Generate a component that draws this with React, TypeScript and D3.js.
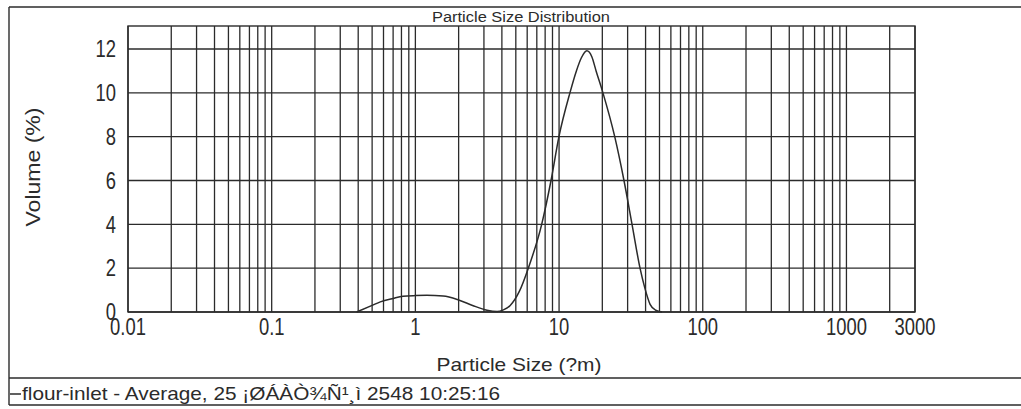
import React from "react";
import * as d3 from "d3";

// particle size (um) and volume (%)
const sizes = [
  0.39, 0.5, 0.57, 0.7, 0.82, 1.0, 1.2, 1.56, 2.0, 2.5, 3.15, 3.7, 4.1, 4.57,
  5.3, 6.11, 7.57, 8.79, 9.98, 11.9, 13.2, 14.3, 15.6, 16.9, 18.1, 20.2, 24.4,
  28.3, 32.2, 36.6, 39.5, 43, 47, 52,
];
const volumes = [
  0, 0.3, 0.46, 0.62, 0.72, 0.75, 0.76, 0.73, 0.55, 0.3, 0.08, 0.02, 0.1, 0.3,
  0.95, 2.0, 4.0, 6.0, 8.0, 10.0, 11.0, 11.6, 11.92, 11.65, 11.0, 10.0, 8.0,
  6.0, 4.0, 2.0, 1.1, 0.35, 0.08, 0,
];

const xTicks = [0.01, 0.1, 1, 10, 100, 1000, 3000];
const xTickLabels = ["0.01", "0.1", "1", "10", "100", "1000", "3000"];
const yTicks = [0, 2, 4, 6, 8, 10, 12];

const title = "Particle Size Distribution";
const xTitle = "Particle Size (?m)";
const yTitle = "Volume (%)";
const legendText = "flour-inlet - Average, 25 ¡ØÁÀÒ¾Ñ¹¸ì 2548 10:25:16";

const W = 1021;
const H = 409;
const plot = { left: 128, right: 915, top: 26, bottom: 312 };
const ink = "#2b2b2b";
const font = "'Liberation Sans', Arial, sans-serif";

export default function App() {
  const x = d3.scaleLog().domain([0.01, 3000]).range([plot.left, plot.right]);
  const y = d3.scaleLinear().domain([0, 13.05]).range([plot.bottom, plot.top]);

  // minor log grid: 1..9 of every decade up to 3000
  const grid: number[] = [];
  for (let e = -2; e <= 3; e++) {
    for (let m = 1; m <= 9; m++) {
      const v = m * Math.pow(10, e);
      if (v <= 3000 + 1e-9) grid.push(v);
    }
  }

  const pts = sizes.map((s, i) => [s, volumes[i]] as [number, number]);
  const line = d3
    .line<[number, number]>()
    .x((d) => x(d[0]))
    .y((d) => y(d[1]))
    .curve(d3.curveMonotoneX);

  return (
    <svg
      width={W}
      height={H}
      style={{ position: "absolute", left: 0, top: 0, background: "#fff" }}
    >
      {/* outer frame */}
      <g stroke={ink} strokeWidth={1.4} fill="none">
        <line x1={9} y1={7} x2={W} y2={7} />
        <line x1={9} y1={7} x2={9} y2={405} />
        <line x1={9} y1={378} x2={W} y2={378} />
        <line x1={9} y1={405} x2={W} y2={405} />
      </g>

      <text
        x={521}
        y={22}
        textAnchor="middle"
        fontFamily={font}
        fontSize={14}
        fill={ink}
        textLength={178}
        lengthAdjust="spacingAndGlyphs"
      >
        {title}
      </text>

      {/* grid */}
      <g stroke={ink} strokeWidth={1.3}>
        {grid.map((v) => (
          <line key={"v" + v} x1={x(v)} x2={x(v)} y1={plot.top} y2={plot.bottom} />
        ))}
        {yTicks.map((v) => (
          <line key={"h" + v} x1={plot.left} x2={plot.right} y1={y(v)} y2={y(v)} />
        ))}
      </g>
      <rect
        x={plot.left}
        y={plot.top}
        width={plot.right - plot.left}
        height={plot.bottom - plot.top}
        fill="none"
        stroke={ink}
        strokeWidth={1.4}
      />

      <path d={line(pts) || ""} fill="none" stroke={ink} strokeWidth={1.5} />

      {/* y tick labels */}
      {yTicks.map((v) => (
        <text
          key={"yt" + v}
          transform={`translate(116,${y(v)}) scale(0.8,1)`}
          textAnchor="end"
          dominantBaseline="central"
          fontFamily={font}
          fontSize={23}
          fill={ink}
        >
          {v}
        </text>
      ))}

      {/* x tick labels */}
      {xTicks.map((v, i) => (
        <text
          key={"xt" + v}
          transform={`translate(${x(v)},335) scale(0.8,1)`}
          textAnchor="middle"
          fontFamily={font}
          fontSize={23}
          fill={ink}
        >
          {xTickLabels[i]}
        </text>
      ))}

      <text
        x={519}
        y={371}
        textAnchor="middle"
        fontFamily={font}
        fontSize={19}
        fill={ink}
        textLength={165}
        lengthAdjust="spacingAndGlyphs"
      >
        {xTitle}
      </text>

      <text
        transform={`translate(40,167) rotate(-90)`}
        textAnchor="middle"
        fontFamily={font}
        fontSize={20}
        fill={ink}
        textLength={119}
        lengthAdjust="spacingAndGlyphs"
      >
        {yTitle}
      </text>

      {/* legend */}
      <line x1={10} x2={21} y1={394} y2={394} stroke={ink} strokeWidth={1.5} />
      <text
        x={22}
        y={400}
        fontFamily={font}
        fontSize={19}
        fill={ink}
        textLength={478}
        lengthAdjust="spacingAndGlyphs"
      >
        {legendText}
      </text>
    </svg>
  );
}
